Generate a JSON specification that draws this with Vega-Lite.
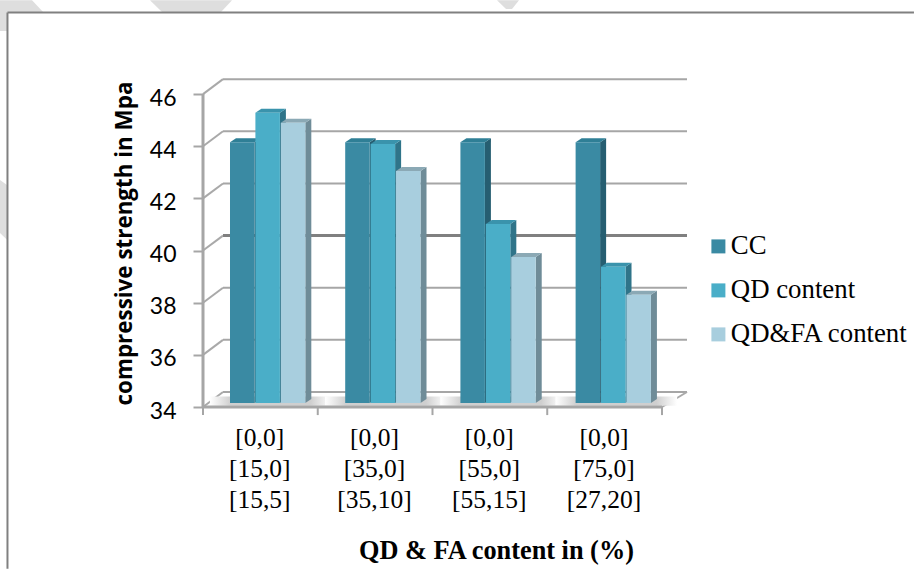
{
  "$schema": "https://vega.github.io/schema/vega-lite/v6.json",
  "width": 484,
  "height": 328,
  "padding": {"left": 203, "top": 79, "right": 227, "bottom": 162},
  "autosize": "none",
  "background": "white",
  "config": {"view": {"stroke": null}},
  "datasets": {
    "strength": [
      {"group": 0, "series": "CC", "value": 44},
      {"group": 0, "series": "QD content", "value": 45.13},
      {"group": 0, "series": "QD&FA content", "value": 44.75},
      {"group": 1, "series": "CC", "value": 44},
      {"group": 1, "series": "QD content", "value": 43.93},
      {"group": 1, "series": "QD&FA content", "value": 42.9},
      {"group": 2, "series": "CC", "value": 44},
      {"group": 2, "series": "QD content", "value": 40.87},
      {"group": 2, "series": "QD&FA content", "value": 39.6},
      {"group": 3, "series": "CC", "value": 44},
      {"group": 3, "series": "QD content", "value": 39.23},
      {"group": 3, "series": "QD&FA content", "value": 38.15}
    ],
    "levels": [{"level": 34}, {"level": 36}, {"level": 38}, {"level": 40}, {"level": 42}, {"level": 44}, {"level": 46}],
    "ticks": [{"t": 0}, {"t": 1}, {"t": 2}, {"t": 3}, {"t": 4}],
    "watermark": [
      {"shape": "a", "v": 49.605, "x0": -1.769, "x1": -1.49},
      {"shape": "a", "v": 49.146, "x0": -1.769, "x1": -1.394},
      {"shape": "a", "v": 49.14, "x0": -1.769, "x1": -1.708},
      {"shape": "a", "v": 48.418, "x0": -1.769, "x1": -1.708},
      {"shape": "b", "v": 49.605, "x0": -0.462, "x1": 0.253},
      {"shape": "b", "v": 49.146, "x0": -0.357, "x1": 0.157},
      {"shape": "c", "v": 49.605, "x0": 2.562, "x1": 2.754},
      {"shape": "c", "v": 49.26, "x0": 2.641, "x1": 2.693},
      {"shape": "d", "v": 42.709, "x0": -1.769, "x1": -1.769},
      {"shape": "d", "v": 42.517, "x0": -1.769, "x1": -1.708},
      {"shape": "d", "v": 40.678, "x0": -1.769, "x1": -1.708},
      {"shape": "d", "v": 40.41, "x0": -1.708, "x1": -1.708}
    ]
  },
  "layer": [
    {
      "data": {"name": "watermark"},
      "mark": {"type": "area", "orient": "horizontal", "color": "#dedede"},
      "encoding": {
        "y": {"field": "v", "type": "quantitative", "scale": {"domain": [34, 46.58], "nice": false, "zero": false}, "axis": null, "stack": null},
        "x": {"field": "x0", "type": "quantitative", "scale": {"domain": [0, 4.218], "nice": false, "zero": false}, "axis": null},
        "x2": {"field": "x1"},
        "detail": {"field": "shape"}
      }
    },
    {
      "data": {"values": [{"side": "top", "x0": -1.704, "x1": 6.196, "v0": 49.126, "v1": 49.126}, {"side": "left", "x0": -1.704, "x1": -1.704, "v0": 49.126, "v1": 27.8}]},
      "mark": {"type": "rule", "color": "#808080", "strokeWidth": 2},
      "encoding": {
        "x": {"field": "x0", "type": "quantitative", "scale": {"domain": [0, 4.218], "nice": false, "zero": false}, "axis": null},
        "x2": {"field": "x1"},
        "y": {"field": "v0", "type": "quantitative", "scale": {"domain": [34, 46.58], "nice": false, "zero": false}, "axis": null},
        "y2": {"field": "v1"}
      }
    },
    {
      "data": {"name": "levels"},
      "transform": [
        {"calculate": "datum.level + 0.5747", "as": "back"},
        {"calculate": "0", "as": "front"},
        {"calculate": "0.1743", "as": "wall"}
      ],
      "mark": {"type": "rule", "strokeWidth": 2},
      "encoding": {
        "x": {"field": "front", "type": "quantitative", "scale": {"domain": [0, 4.218], "nice": false, "zero": false}, "axis": null},
        "x2": {"field": "wall"},
        "y": {"field": "level", "type": "quantitative", "scale": {"domain": [34, 46.58], "nice": false, "zero": false}, "axis": null},
        "y2": {"field": "back"},
        "color": {"value": "#a9a9a9"}
      }
    },
    {
      "data": {"name": "levels"},
      "transform": [
        {"calculate": "datum.level + 0.5747", "as": "back"},
        {"calculate": "0.1743", "as": "wall"},
        {"calculate": "4.218", "as": "end"}
      ],
      "mark": {"type": "rule"},
      "encoding": {
        "x": {"field": "wall", "type": "quantitative", "scale": {"domain": [0, 4.218], "nice": false, "zero": false}, "axis": null},
        "x2": {"field": "end"},
        "y": {"field": "back", "type": "quantitative", "scale": {"domain": [34, 46.58], "nice": false, "zero": false}, "axis": null},
        "color": {"condition": {"test": "datum.level === 40", "value": "#808080"}, "value": "#a6a6a6"},
        "strokeWidth": {"condition": {"test": "datum.level === 40", "value": 3}, "value": 2}
      }
    },
    {
      "data": {"values": [{"x0": 4, "x1": 4.218, "v0": 34, "v1": 34.5747}]},
      "mark": {"type": "rule", "color": "#a9a9a9", "strokeWidth": 2},
      "encoding": {
        "x": {"field": "x0", "type": "quantitative", "scale": {"domain": [0, 4.218], "nice": false, "zero": false}, "axis": null},
        "x2": {"field": "x1"},
        "y": {"field": "v0", "type": "quantitative", "scale": {"domain": [34, 46.58], "nice": false, "zero": false}, "axis": null},
        "y2": {"field": "v1"}
      }
    },
    {
      "data": {"name": "ticks"},
      "transform": [
        {"filter": "datum.t < 4"},
        {"calculate": "datum.t * 1.004 + 0.06", "as": "shadeFrom"},
        {"calculate": "datum.t * 1.004 + 1.12", "as": "shadeTo"},
        {"calculate": "34.05", "as": "shadeBase"},
        {"calculate": "34.4", "as": "shadeTop"}
      ],
      "mark": {
        "type": "rect",
        "color": {
          "gradient": "linear", "x1": 0, "y1": 0, "x2": 1, "y2": 0,
          "stops": [
            {"offset": 0, "color": "#ffffff"},
            {"offset": 0.17, "color": "#cfcfcf"},
            {"offset": 0.83, "color": "#cfcfcf"},
            {"offset": 1, "color": "#ffffff"}
          ]
        }
      },
      "encoding": {
        "x": {"field": "shadeFrom", "type": "quantitative", "scale": {"domain": [0, 4.218], "nice": false, "zero": false}, "axis": null},
        "x2": {"field": "shadeTo"},
        "y": {"field": "shadeBase", "type": "quantitative", "scale": {"domain": [34, 46.58], "nice": false, "zero": false}, "axis": null},
        "y2": {"field": "shadeTop"}
      }
    },
    {
      "data": {"values": [{"x0": 0, "x1": 0, "v0": 34, "v1": 46}, {"x0": 0, "x1": 4, "v0": 34, "v1": 34}]},
      "mark": {"type": "rule", "color": "#a6a6a6", "strokeWidth": 3},
      "encoding": {
        "x": {"field": "x0", "type": "quantitative", "scale": {"domain": [0, 4.218], "nice": false, "zero": false}, "axis": null},
        "x2": {"field": "x1"},
        "y": {"field": "v0", "type": "quantitative", "scale": {"domain": [34, 46.58], "nice": false, "zero": false}, "axis": null},
        "y2": {"field": "v1"}
      }
    },
    {
      "data": {"name": "ticks"},
      "transform": [{"calculate": "34", "as": "from"}, {"calculate": "33.69", "as": "to"}],
      "mark": {"type": "rule", "color": "#a6a6a6", "strokeWidth": 2},
      "encoding": {
        "x": {"field": "t", "type": "quantitative", "scale": {"domain": [0, 4.218], "nice": false, "zero": false}, "axis": null},
        "y": {"field": "from", "type": "quantitative", "scale": {"domain": [34, 46.58], "nice": false, "zero": false}, "axis": null},
        "y2": {"field": "to"}
      }
    },
    {
      "data": {"name": "strength"},
      "transform": [
        {"calculate": "indexof(['CC','QD content','QD&FA content'], datum.series)", "as": "s"},
        {"calculate": "datum.group * 1.004 + 0.2353 + datum.s * 0.2214 + 0.2135", "as": "r"},
        {"calculate": "datum.series + datum.group", "as": "bar"},
        {"calculate": "[datum.r, datum.r + 0.0523]", "as": "sx"},
        {"calculate": "[datum.value + 0.153, datum.value + 0.306]", "as": "sTop"},
        {"calculate": "[34.153, 34.306]", "as": "sBase"},
        {"flatten": ["sx", "sTop", "sBase"]}
      ],
      "mark": {"type": "area", "orient": "vertical"},
      "encoding": {
        "x": {"field": "sx", "type": "quantitative", "scale": {"domain": [0, 4.218], "nice": false, "zero": false}, "axis": null},
        "y": {"field": "sTop", "type": "quantitative", "scale": {"domain": [34, 46.58], "nice": false, "zero": false}, "axis": null, "stack": null},
        "y2": {"field": "sBase"},
        "detail": {"field": "bar"},
        "color": {"field": "series", "type": "nominal", "legend": null, "scale": {"domain": ["CC", "QD content", "QD&FA content"], "range": ["#265e71", "#2f7489", "#6f8c98"]}}
      }
    },
    {
      "data": {"name": "strength"},
      "transform": [
        {"calculate": "indexof(['CC','QD content','QD&FA content'], datum.series)", "as": "s"},
        {"calculate": "datum.group * 1.004 + 0.2353 + datum.s * 0.2214", "as": "l"},
        {"calculate": "datum.series + datum.group", "as": "bar"},
        {"calculate": "[datum.l, datum.l + 0.0523]", "as": "tl"},
        {"calculate": "[datum.l + 0.2135, datum.l + 0.2658]", "as": "tr"},
        {"calculate": "[datum.value + 0.153, datum.value + 0.306]", "as": "tv"},
        {"flatten": ["tl", "tr", "tv"]}
      ],
      "mark": {"type": "area", "orient": "horizontal"},
      "encoding": {
        "y": {"field": "tv", "type": "quantitative", "scale": {"domain": [34, 46.58], "nice": false, "zero": false}, "axis": null, "stack": null},
        "x": {"field": "tl", "type": "quantitative", "scale": {"domain": [0, 4.218], "nice": false, "zero": false}, "axis": null},
        "x2": {"field": "tr"},
        "detail": {"field": "bar"},
        "color": {"field": "series", "type": "nominal", "legend": null, "scale": {"domain": ["CC", "QD content", "QD&FA content"], "range": ["#2f7f96", "#3a93ac", "#8ba9b5"]}}
      }
    },
    {
      "data": {"name": "strength"},
      "transform": [
        {"calculate": "indexof(['CC','QD content','QD&FA content'], datum.series)", "as": "s"},
        {"calculate": "datum.group * 1.004 + 0.2353 + datum.s * 0.2214", "as": "l"},
        {"calculate": "datum.l + 0.2135", "as": "r"},
        {"calculate": "datum.value + 0.153", "as": "faceTop"},
        {"calculate": "34.153", "as": "faceBase"}
      ],
      "mark": {"type": "rect"},
      "encoding": {
        "x": {
          "field": "l", "type": "quantitative",
          "scale": {"domain": [0, 4.218], "nice": false, "zero": false},
          "axis": {
            "title": "QD & FA content in (%)",
            "titleFont": "Liberation Serif", "titleFontSize": 26.3, "titleFontWeight": "bold", "titleColor": "black",
            "titleX": 293, "titleY": 130, "titleAnchor": "middle",
            "domain": false, "grid": false, "ticks": false,
            "values": [0.49, 1.49, 2.49, 3.49],
            "labelFont": "Liberation Serif", "labelFontSize": 25.5, "labelColor": "black",
            "labelPadding": 18, "labelLineHeight": 31, "labelAngle": 0, "labelBaseline": "top",
            "labelExpr": "[['[0,0]','[15,0]','[15,5]'],['[0,0]','[35,0]','[35,10]'],['[0,0]','[55,0]','[55,15]'],['[0,0]','[75,0]','[27,20]']][floor(datum.value)]"
          }
        },
        "x2": {"field": "r"},
        "y": {
          "field": "faceTop", "type": "quantitative",
          "scale": {"domain": [34, 46.58], "nice": false, "zero": false},
          "axis": {
            "title": "compressive strength in Mpa",
            "titleFont": "Open Sans", "titleFontSize": 22.4, "titleFontWeight": "bold", "titleColor": "black",
            "titleX": -67, "titleY": 164, "titleAnchor": "middle", "titleAngle": 270,
            "domain": false, "grid": false,
            "values": [34, 36, 38, 40, 42, 44, 46],
            "tickSize": 10, "tickColor": "#a6a6a6", "tickWidth": 2,
            "labelFont": "Lato", "labelFontSize": 23, "labelColor": "black", "labelPadding": 17, "labelOffset": 4
          }
        },
        "y2": {"field": "faceBase"},
        "color": {
          "field": "series", "type": "nominal",
          "scale": {"domain": ["CC", "QD content", "QD&FA content"], "range": ["#3a8aa3", "#4aaec8", "#a8cede"]},
          "legend": {
            "title": null, "orient": "none", "legendX": 502, "legendY": 154,
            "symbolType": "square", "symbolSize": 196, "symbolStrokeWidth": 0,
            "labelFont": "Liberation Serif", "labelFontSize": 26.8, "labelColor": "black", "labelLimit": 300,
            "labelOffset": -1, "rowPadding": 16
          }
        }
      }
    }
  ],
  "resolve": {"scale": {"color": "independent"}, "axis": {"x": "independent", "y": "independent"}}
}
